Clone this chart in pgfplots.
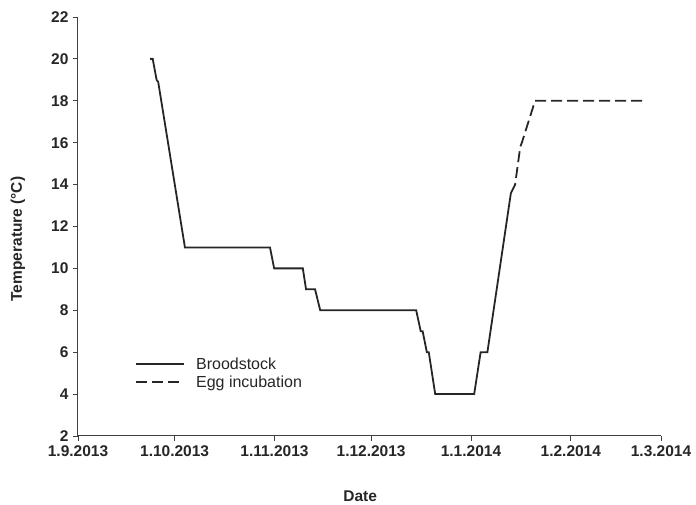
\documentclass[border=0pt]{standalone}
\usepackage{fontspec}
\setmainfont{Liberation Sans}
\usepackage{pgfplots}
\pgfplotsset{compat=1.18}
\begin{document}
\begin{tikzpicture}
\useasboundingbox (-78pt,-69pt) rectangle (618pt,436pt);
\begin{axis}[
  at={(0,0)}, anchor=south west,
  scale only axis, width=583pt, height=419pt,
  xmin=0, xmax=181, ymin=2, ymax=22,
  axis x line*=bottom, axis y line*=left,
  axis line style={line width=1pt, black!75},
  xtick={0,30,61,91,122,153,181},
  xticklabels={1.9.2013,1.10.2013,1.11.2013,1.12.2013,1.1.2014,1.2.2014,1.3.2014},
  ytick={2,4,...,22},
  tick align=outside, major tick length=5pt,
  tick style={line width=0.8pt, black!75},
  /pgf/number format/assume math mode=true,
  ticklabel style={font=\fontsize{15.5}{17}\selectfont\bfseries, text=black!85},
  xticklabel style={yshift=-1pt},
  yticklabel style={xshift=-1pt},
  xlabel={Date}, ylabel={Temperature (°C)},
  xlabel style={at={(axis description cs:0.484,0)}, anchor=center, yshift=-60pt,
    font=\fontsize{15.5}{17}\selectfont\bfseries, text=black!85},
  ylabel style={at={(axis description cs:-0.103,0.47)}, anchor=center,
    font=\fontsize{15.5}{17}\selectfont\bfseries, text=black!85},
  legend style={at={(axis cs:16.8,5.95)}, anchor=north west, draw=none, fill=none,
    font=\fontsize{16}{18}\selectfont, text=black!85, row sep=1pt,
    /tikz/every odd column/.append style={column sep=9pt}},
  legend cell align=left,
  legend image code/.code={\draw[#1] (0pt,0pt) -- (48pt,0pt);},
]
\addplot[line width=1.8pt, black!85] coordinates {
  (22.4,20) (23.2,20) (24.4,19) (24.9,18.9) (33.2,11)
  (59.6,11) (60.9,10) (69.8,10) (70.8,9) (73.6,9) (75.2,8)
  (105,8) (106.4,7) (107,7) (108.3,6) (108.9,6) (110.9,4)
  (123,4) (125,6) (127.1,6) (134.4,13.6)
};
\addlegendentry{Broodstock}
\addplot[line width=1.8pt, black!85, dash pattern=on 11pt off 5pt] coordinates {
  (134.4,13.6) (135.7,14.0) (137.3,15.8) (137.8,16.0) (141.9,18) (176.6,18)
};
\addlegendentry{Egg incubation}
\end{axis}
\end{tikzpicture}
\end{document}
